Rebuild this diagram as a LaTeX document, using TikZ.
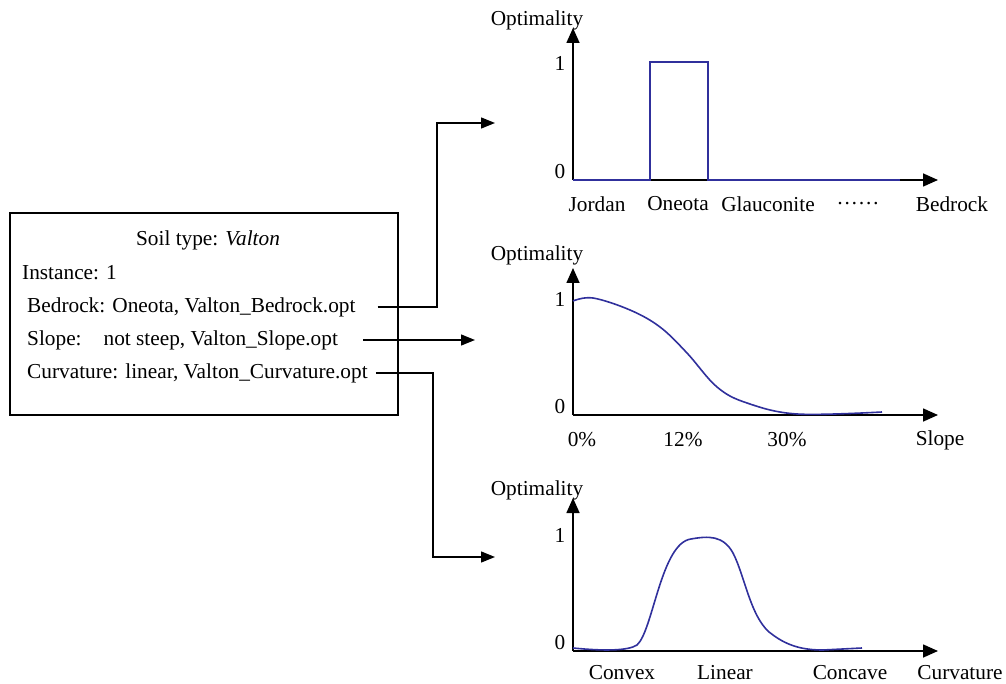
\documentclass[tikz,border=0pt]{standalone}
\usepackage{fontspec}
\setmainfont{Liberation Serif}
\usetikzlibrary{arrows.meta,positioning}
\definecolor{optblue}{HTML}{30309C}
\tikzstyle{axis} = [line width=1.6pt, -{Triangle[length=15pt,width=13pt]}]
\tikzstyle{link} = [line width=1.3pt, -{Triangle[length=14pt,width=11pt]}]
\tikzstyle{curve} = [optblue, line width=1.6pt]
\tikzstyle{lbl} = [inner sep=0pt]

\begin{document}
\begin{tikzpicture}[x=1pt, y=-1pt, every node/.style={font=\fontsize{21.3}{25}\selectfont}]
	\useasboundingbox (0,0) rectangle (1006,684);

	% soil type box
	\node[draw, line width=1.3pt, minimum width=388pt, minimum height=202pt] (soil) at (204,314) {};
	\node[lbl] (title) at (208,240) {Soil type: \textit{Valton}};
	\node[lbl, anchor=west] (inst) at (22,273) {Instance: 1};
	\node[lbl, anchor=west] (bed) at (27,307) {Bedrock: Oneota, Valton\_Bedrock.opt};
	\node[lbl, anchor=west] (slo) at (27,340) {Slope:\hspace{22pt}not steep, Valton\_Slope.opt};
	\node[lbl, anchor=west] (cur) at (27,373) {Curvature: linear, Valton\_Curvature.opt};

	\coordinate (bedin) at (495,123);
	\coordinate (sloin) at (475,341);
	\coordinate (curin) at (495,557);
	\draw[link] ([xshift=22pt]bed.east) -| ([xshift=-58pt]bedin) -- (bedin);
	\draw[link] ([xshift=25pt]slo.east) -- (slo.east -| sloin);
	\draw[link] ([xshift=8pt]cur.east) -| ([xshift=-62pt]curin) -- (curin);

	% bedrock chart
	\begin{scope}[shift={(573,180)}]
		\draw[axis] (0,0) -- (0,-152);
		\draw[axis] (0,0) -- (365,0);
		\node[lbl] (optA) at (-36,-160) {Optimality};
		\node[lbl] (oneA) at (-13,-117) {1};
		\node[lbl] (zeroA) at (-13,-8) {0};
		\draw[curve] (0,0) -- (77,0) -- (77,-118) -- (135,-118) -- (135,0) -- (327,0);
		\node[lbl] (jordan) at (24,24) {Jordan};
		\node[lbl] (oneota) at (105,24) {Oneota};
		\node[lbl] (glauc) at (195,24) {Glauconite};
		\node[lbl] (dots) at (285,24) {\dots\dots};
		\node[lbl] (bedx) at (379,24) {Bedrock};
	\end{scope}

	% slope chart
	\begin{scope}[shift={(573,415)}]
		\draw[axis] (0,0) -- (0,-147);
		\draw[axis] (0,0) -- (365,0);
		\node[lbl] (optB) at (-36,-160) {Optimality};
		\node[lbl] (oneB) at (-13,-116) {1};
		\node[lbl] (zeroB) at (-13,-8) {0};
		\draw[curve] plot[smooth, tension=0.6] coordinates {(0,-114) (20,-117) (57,-105) (87,-88) (114,-62) (144,-28) (174,-12) (224,-1) (309,-3)};
		\node[lbl] (p0) at (9,25) {0\%};
		\node[lbl] (p12) at (110,25) {12\%};
		\node[lbl] (p30) at (214,25) {30\%};
		\node[lbl] (slox) at (367,25) {Slope};
	\end{scope}

	% curvature chart
	\begin{scope}[shift={(573,651)}]
		\draw[axis] (0,0) -- (0,-153);
		\draw[axis] (0,0) -- (365,0);
		\node[lbl] (optC) at (-36,-161) {Optimality};
		\node[lbl] (oneC) at (-13,-116) {1};
		\node[lbl] (zeroC) at (-13,-8) {0};
		\draw[curve] (0,-3) .. controls (30,0) and (55,0) .. (64,-6)
			.. controls (80,-20) and (88,-108) .. (118,-112)
			.. controls (135,-115) and (150,-116) .. (160,-98)
			.. controls (172,-75) and (178,-30) .. (200,-16)
			.. controls (215,-5) and (230,-1) .. (250,-1) -- (289,-3);
		\node[lbl] (convex) at (49,22) {Convex};
		\node[lbl] (linear) at (152,22) {Linear};
		\node[lbl] (concave) at (277,22) {Concave};
		\node[lbl] (curx) at (387,22) {Curvature};
	\end{scope}
\end{tikzpicture}
\end{document}
